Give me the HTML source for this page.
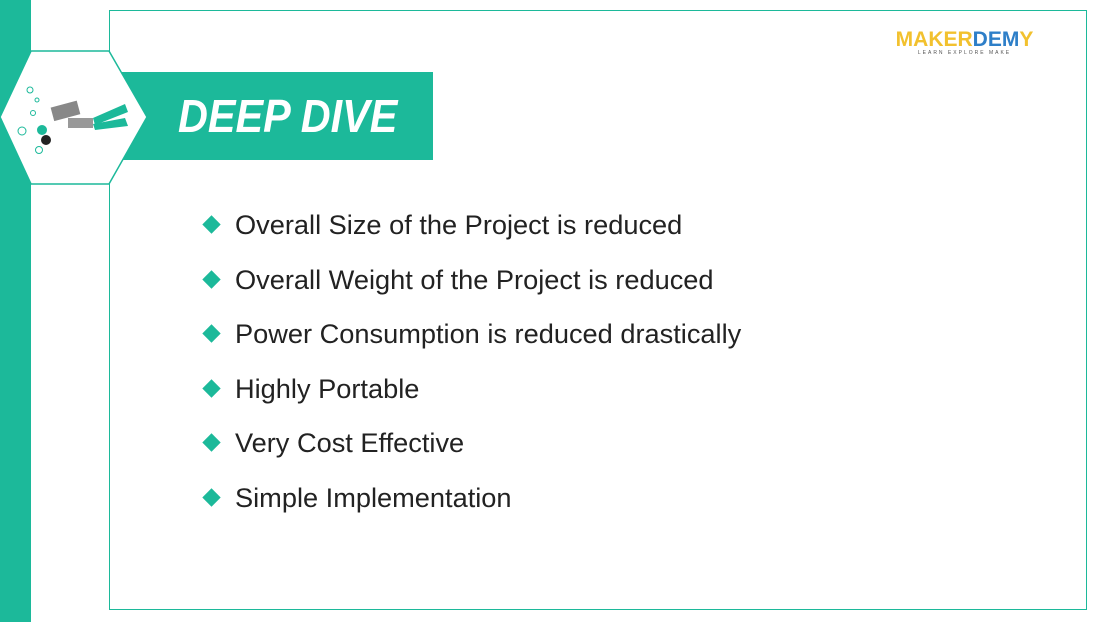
<!DOCTYPE html>
<html><head><meta charset="utf-8"><style>
body{margin:0;width:1097px;height:622px;background:#fff;position:relative;overflow:hidden;font-family:"Liberation Sans",sans-serif}
.abs{position:absolute}
.item{position:absolute;left:202px;font-size:27.2px;color:#222;height:30px;line-height:30px}
.item span.d{position:absolute;left:3px;top:8px;width:13px;height:13px;background:#1cb99a;transform:rotate(45deg)}
.item span.t{position:absolute;left:33px;white-space:nowrap}
</style></head><body>
<div class="abs" style="left:0;top:0;width:31px;height:622px;background:#1cb99a"></div>
<div class="abs" style="left:109px;top:10px;width:976px;height:598px;border:1.5px solid #1cb99a"></div>
<div class="abs" style="left:120px;top:72px;width:313px;height:88px;background:#1cb99a"></div>
<svg class="abs" style="left:0;top:0" width="160" height="200">
<polygon points="0,117 31,51 109,51 147,117 109,184 31,184" fill="#fff" stroke="#1cb99a" stroke-width="1.5"/>
<g>
<circle cx="30" cy="90" r="3" fill="none" stroke="#1cb99a"/><circle cx="37" cy="100" r="2" fill="none" stroke="#1cb99a"/>
<circle cx="33" cy="113" r="2.5" fill="none" stroke="#1cb99a"/><circle cx="22" cy="131" r="4" fill="none" stroke="#1cb99a"/>
<circle cx="39" cy="150" r="3.5" fill="none" stroke="#1cb99a"/>
<rect x="52" y="104" width="27" height="14" fill="#888" transform="rotate(-15 65 111)"/>
<rect x="68" y="118" width="25" height="10" fill="#999"/>
<polygon points="93,118 125,104 128,112 95,125" fill="#1cb99a"/>
<polygon points="93,124 125,118 128,126 95,130" fill="#1cb99a"/>
<circle cx="42" cy="130" r="5" fill="#1cb99a"/><circle cx="46" cy="140" r="5" fill="#222"/>
</g>
</svg>
<div class="abs" style="left:178px;top:88px;font-size:46px;font-weight:bold;font-style:italic;color:#fff;line-height:56px;transform:scaleX(0.9);transform-origin:left">DEEP DIVE</div>
<div class="abs" style="left:882px;top:30px;width:165px;text-align:center">
<div style="font-size:21px;font-weight:bold;color:#f2c12e;line-height:20px">MAKER<span style="color:#2e7fc8">DEM</span>Y</div>
<div style="font-size:5px;letter-spacing:2px;color:#555;line-height:7px">LEARN EXPLORE MAKE</div></div>
<div class="item" style="top:210px"><span class="d"></span><span class="t">Overall Size of the Project is reduced</span></div>
<div class="item" style="top:265px"><span class="d"></span><span class="t">Overall Weight of the Project is reduced</span></div>
<div class="item" style="top:319px"><span class="d"></span><span class="t">Power Consumption is reduced drastically</span></div>
<div class="item" style="top:374px"><span class="d"></span><span class="t">Highly Portable</span></div>
<div class="item" style="top:428px"><span class="d"></span><span class="t">Very Cost Effective</span></div>
<div class="item" style="top:483px"><span class="d"></span><span class="t">Simple Implementation</span></div>
</body></html>
